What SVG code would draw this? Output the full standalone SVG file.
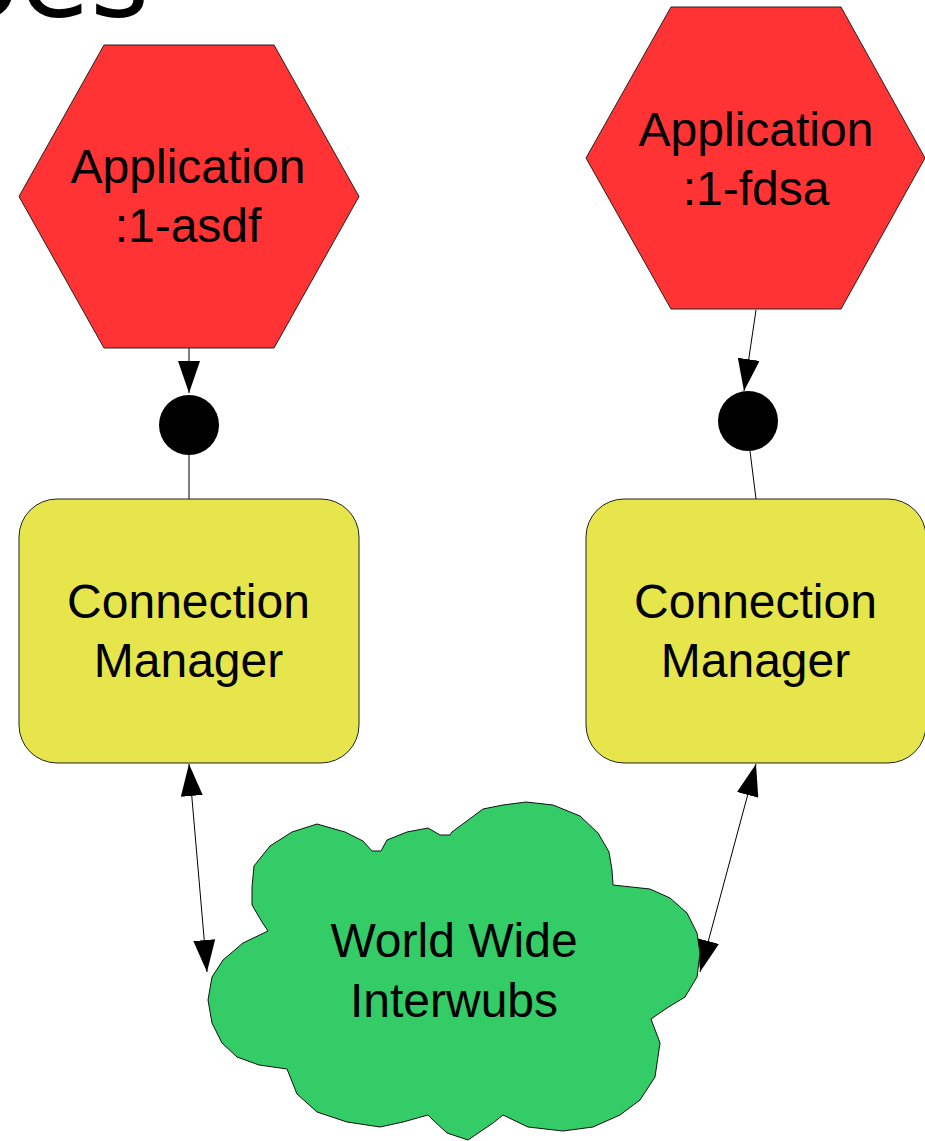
<svg xmlns="http://www.w3.org/2000/svg" width="925" height="1141" viewBox="0 0 925 1141">
<style>
.lbl{font-family:"Liberation Sans",Arial,sans-serif;font-size:48px;fill:#000;text-anchor:middle}
.hex{fill:#ff3333;stroke:#222;stroke-width:1}
.cm{fill:#e6e64c;stroke:#222;stroke-width:1}
.cloud{fill:#33cc66;stroke:#111;stroke-width:1}
.conn{stroke:#000;stroke-width:1;fill:none}
.dot{fill:#000}
.title{font-family:"DejaVu Sans",sans-serif;font-size:114px;fill:#000}
</style>
<defs>
<marker id="arr" viewBox="0 0 32 22" refX="32" refY="11" markerWidth="32" markerHeight="22" markerUnits="userSpaceOnUse" orient="auto-start-reverse">
<path d="M0,0 L32,11 L0,22 z" fill="#000"/>
</marker>
</defs>
<rect width="925" height="1141" fill="#fff"/>
<text class="title" x="-50" y="16">oes</text>
<g id="connectors">
<line class="conn" x1="189" y1="348" x2="189" y2="393" marker-end="url(#arr)"/>
<circle class="dot" cx="189" cy="425" r="30"/>
<line class="conn" x1="189" y1="455" x2="189" y2="499"/>
<line class="conn" x1="756" y1="310" x2="744" y2="391" marker-end="url(#arr)"/>
<circle class="dot" cx="748" cy="421" r="30"/>
<line class="conn" x1="750" y1="451" x2="756" y2="499"/>
<line class="conn" x1="189" y1="764" x2="207" y2="972" marker-start="url(#arr)" marker-end="url(#arr)"/>
<line class="conn" x1="756" y1="764" x2="700" y2="972" marker-start="url(#arr)" marker-end="url(#arr)"/>
</g>
<g id="app1">
<polygon class="hex" points="104,45 274,45 359,196.5 274,348 104,348 19,196.5"/>
<text class="lbl" x="188" y="183">Application</text>
<text class="lbl" x="188" y="242">:1-asdf</text>
</g>
<g id="app2">
<polygon class="hex" points="671,7 841,7 925,158 841,309 671,309 586,158"/>
<text class="lbl" x="756" y="146">Application</text>
<text class="lbl" x="756" y="205">:1-fdsa</text>
</g>
<g id="cm1">
<rect class="cm" x="19" y="499" width="340" height="264" rx="38" ry="38"/>
<text class="lbl" x="188.5" y="618">Connection</text>
<text class="lbl" x="188.5" y="677">Manager</text>
</g>
<g id="cm2">
<rect class="cm" x="586" y="499" width="340" height="264" rx="38" ry="38"/>
<text class="lbl" x="755.5" y="618">Connection</text>
<text class="lbl" x="755.5" y="677">Manager</text>
</g>
<g id="internet">
<polygon class="cloud" points="254,866 270,846 292,832 317,824 345,832 363,841 372,851 381,851 387,840 407,832 428,828 440,835 450,835 452,832 483,809 503,805 526,802 553,805 580,816 598,833 609,852 612,870 613,885 622,886 650,889 670,898 687,913 697,933 700,953 697,977 685,997 667,1008 651,1019 660,1043 655,1077 640,1100 620,1115 593,1127 563,1131 528,1127 503,1115 493,1123 468,1140 447,1133 433,1120 428,1115 403,1122 380,1127 347,1122 317,1112 297,1094 287,1069 259,1065 237,1057 222,1043 212,1023 208,1000 212,977 223,960 243,943 268,931 262,922 252,905 252,887"/>
<text class="lbl" x="454" y="957">World Wide</text>
<text class="lbl" x="454" y="1017">Interwubs</text>
</g>
</svg>
